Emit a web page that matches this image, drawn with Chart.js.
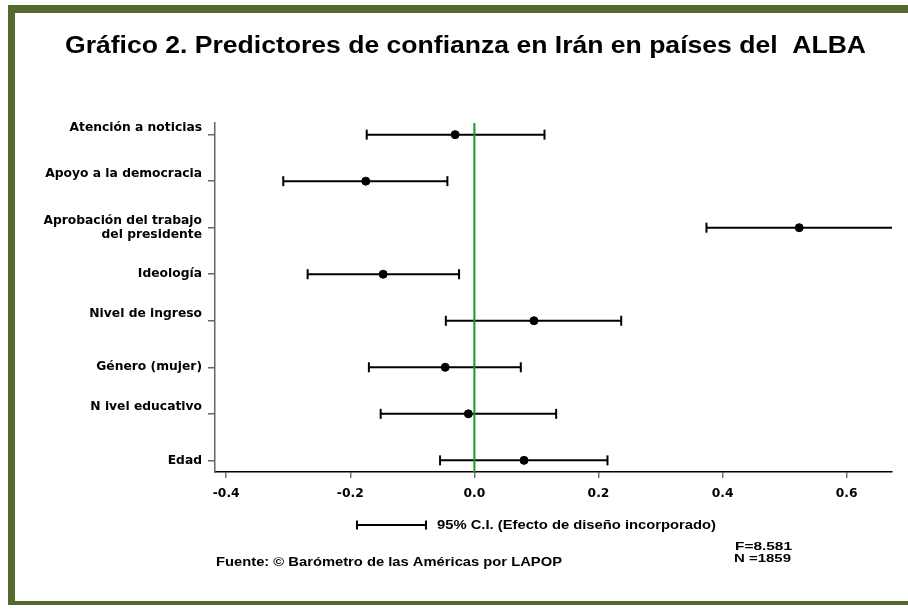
<!DOCTYPE html>
<html><head><meta charset="utf-8">
<script src="https://cdn.jsdelivr.net/npm/chart.js@4/dist/chart.umd.min.js"></script>
<style>html,body{margin:0;padding:0;background:#fff}canvas{display:block}</style>
</head><body>
<canvas id="c" width="908" height="613"></canvas>
<script>
// ---- data ----
const categories = [
  ['Atención a noticias', ''],
  ['Apoyo a la democracia', ''],
  ['Aprobación del trabajo', 'del presidente'],
  'Ideología',
  ['Nivel de ingreso', ''],
  'Género (mujer)',
  ['N ivel educativo', ''],
  'Edad'
];
const estimates = [-0.031, -0.175, 0.5235, -0.147, 0.096, -0.047, -0.0097, 0.080];
const lowerCI   = [-0.1735, -0.308, 0.374, -0.2687, -0.046, -0.170, -0.151, -0.0553];
const upperCI   = [0.113, -0.0435, 0.675, -0.0247, 0.2366, 0.0748, 0.1318, 0.2145];
const xTicks = [-0.4, -0.2, 0.0, 0.2, 0.4, 0.6];
const titleText = 'Gráfico 2. Predictores de confianza en Irán en países del  ALBA';
const legendText = '95% C.I. (Efecto de diseño incorporado)';
const sourceText = 'Fuente: © Barómetro de las Américas por LAPOP';
const statLines = ['F=8.581', 'N =1859'];

const FONT = "'Liberation Sans', Arial, Helvetica, sans-serif";
const WIDE = "'DejaVu Sans', Verdana, sans-serif";
const GREEN_FRAME = '#536a2c';

const datasets = [];
datasets.push({
  type: 'line', label: 'zero', data: [{x: 0, y: -0.25}, {x: 0, y: 7.25}],
  borderColor: '#1e9a1e', borderWidth: 2, pointRadius: 0, order: 0, clip: 0
});
datasets.push({
  type: 'scatter', label: 'coef',
  data: estimates.map((v, i) => ({x: v, y: i})),
  backgroundColor: '#000', borderColor: '#000', pointRadius: 4, pointHoverRadius: 4, order: 1
});
categories.forEach((c, i) => {
  datasets.push({
    type: 'line', label: 'ci' + i,
    data: [{x: lowerCI[i], y: i}, {x: upperCI[i], y: i}],
    borderColor: '#000', borderWidth: 2,
    pointStyle: 'line', rotation: 90, pointRadius: 5, pointBorderWidth: 2,
    pointBorderColor: '#000', order: 2, clip: 0
  });
});

// draws text stretched horizontally to a target width
function stretchText(ctx, text, x, y, width, align) {
  const w = ctx.measureText(text).width;
  const sx = width / w;
  ctx.save();
  ctx.textAlign = 'left';
  let left = x;
  if (align === 'center') left = x - width / 2;
  else if (align === 'right') left = x - width;
  ctx.translate(left, y);
  ctx.scale(sx, 1);
  ctx.fillText(text, 0, 0);
  ctx.restore();
}

const decor = {
  id: 'decor',
  beforeDraw(chart) {
    const ctx = chart.ctx;
    ctx.save();
    ctx.fillStyle = '#fff';
    ctx.fillRect(0, 0, chart.width, chart.height);
    ctx.fillStyle = GREEN_FRAME;
    ctx.fillRect(8, 5, 900, 8);
    ctx.fillRect(8, 5, 7, 600);
    ctx.fillRect(8, 601, 900, 4);
    ctx.restore();
  },
  afterDraw(chart) {
    const ctx = chart.ctx;
    ctx.save();
    ctx.fillStyle = '#000';
    ctx.textBaseline = 'middle';
    ctx.font = 'bold 23px ' + FONT;
    stretchText(ctx, titleText, 465.5, 47, 801, 'center');
    // legend sample
    ctx.strokeStyle = '#000';
    ctx.lineWidth = 2;
    ctx.beginPath();
    ctx.moveTo(356, 525); ctx.lineTo(427, 525);
    ctx.moveTo(357, 520.5); ctx.lineTo(357, 529.5);
    ctx.moveTo(426, 520.5); ctx.lineTo(426, 529.5);
    ctx.stroke();
    ctx.font = 'bold 12px ' + FONT;
    stretchText(ctx, legendText, 437, 526, 279, 'left');
    stretchText(ctx, sourceText, 562, 563, 346, 'right');
    ctx.font = 'bold 11.5px ' + FONT;
    stretchText(ctx, statLines[0], 735, 547, 57, 'left');
    stretchText(ctx, statLines[1], 734, 559, 57, 'left');
    ctx.restore();
  }
};

new Chart(document.getElementById('c'), {
  data: { datasets },
  options: {
    responsive: false,
    devicePixelRatio: 1,
    animation: false,
    layout: { padding: { top: 123, right: 16, left: 0, bottom: 0 } },
    plugins: { legend: { display: false }, tooltip: { enabled: false }, title: { display: false } },
    scales: {
      x: {
        type: 'linear', min: -0.418, max: 0.673,
        afterBuildTicks(s) { s.ticks = xTicks.map(v => ({value: v})); },
        afterFit(s) { s.height = 141; },
        border: { color: '#000', width: 1.5 },
        grid: { drawOnChartArea: false, drawTicks: true, tickLength: 6, color: '#777', lineWidth: 1.5 },
        ticks: { color: '#000', padding: 8, maxRotation: 0, font: { family: WIDE, size: 12.3, weight: 'bold' },
          callback: v => v.toFixed(1) }
      },
      y: {
        type: 'linear', reverse: true, min: -0.25, max: 7.25,
        afterBuildTicks(s) { s.ticks = categories.map((c, i) => ({value: i})); },
        afterFit(s) { s.width = 215; },
        border: { color: '#666', width: 1.5 },
        grid: { drawOnChartArea: false, drawTicks: true, tickLength: 7, color: '#666', lineWidth: 1.5 },
        ticks: { color: '#000', padding: 6, font: { family: WIDE, size: 12.3, weight: 'bold', lineHeight: '14.5px' },
          callback: (v) => categories[v] }
      }
    }
  },
  plugins: [decor]
});
</script>
</body></html>
